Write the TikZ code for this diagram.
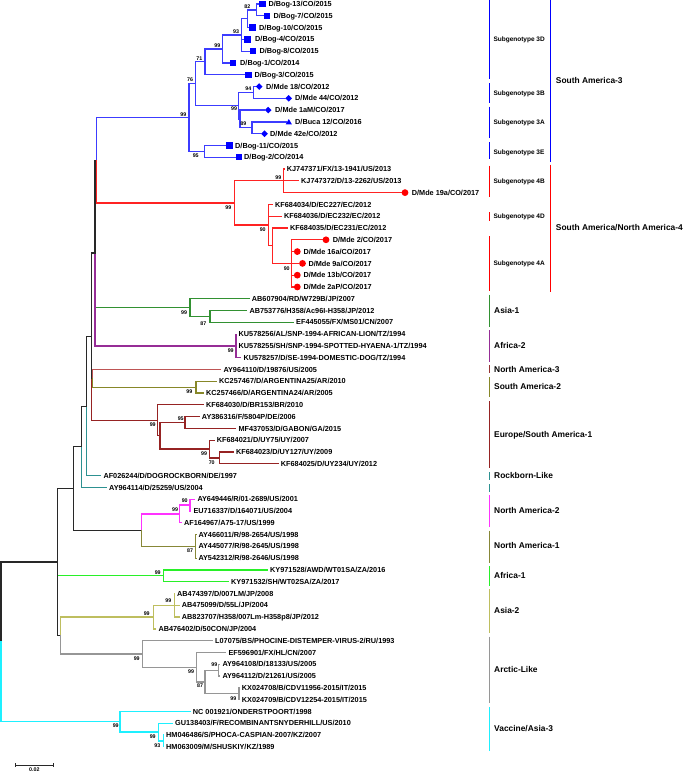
\documentclass[tikz,border=0pt]{standalone}
\usepackage{fontspec}
\setmainfont{Liberation Sans}
\usetikzlibrary{shapes.geometric}
\definecolor{cSA3}{RGB}{60,60,255}
\definecolor{cBlue}{RGB}{0,0,255}
\definecolor{cSA4}{RGB}{255,35,35}
\definecolor{cRed}{RGB}{255,0,0}
\definecolor{cAs1}{RGB}{50,145,50}
\definecolor{cAf2}{RGB}{150,45,150}
\definecolor{cNA3}{RGB}{190,85,85}
\definecolor{cNA3bar}{RGB}{150,50,50}
\definecolor{cSA2}{RGB}{135,135,40}
\definecolor{cEu}{RGB}{150,35,35}
\definecolor{cRock}{RGB}{45,145,145}
\definecolor{cNA2}{RGB}{255,50,255}
\definecolor{cNA1}{RGB}{135,135,55}
\definecolor{cAf1}{RGB}{40,240,40}
\definecolor{cAs2}{RGB}{190,190,95}
\definecolor{cArc}{RGB}{150,150,150}
\definecolor{cVac}{RGB}{30,240,255}
\definecolor{cBk}{RGB}{40,40,40}
\begin{document}
\begin{tikzpicture}[x=1pt,y=-1pt,
  br/.style={line width=1.25pt,line cap=rect},
  leaf/.style={anchor=west,inner xsep=2.5pt,inner ysep=0pt,text height=5.25pt,text depth=0pt,font=\fontsize{7.3}{8}\selectfont\bfseries},
  bs/.style={inner sep=0pt,font=\fontsize{5.3}{6}\selectfont\bfseries},
  sq/.style={fill=cBlue,rectangle,minimum size=6pt,inner sep=0pt},
  dia/.style={fill=cBlue,diamond,minimum size=6.8pt,inner sep=0pt},
  tri/.style={fill=cBlue,regular polygon,regular polygon sides=3,minimum size=7.2pt,inner sep=0pt},
  dot/.style={fill=cRed,circle,minimum size=6.8pt,inner sep=0pt},
  bar/.style={line width=1.25pt},
  sub/.style={anchor=west,inner sep=0pt,text height=4.7pt,text depth=0pt,font=\fontsize{6.5}{7}\selectfont\bfseries},
  clade/.style={anchor=west,inner sep=0pt,text height=6pt,text depth=0pt,font=\fontsize{8.4}{9}\selectfont\bfseries}
]
\fill[white] (0,0) rectangle (685,772);
\useasboundingbox (0,0) rectangle (685,772);

% internal nodes
\coordinate (root) at (1,641.85);
\coordinate (ni) at (57.5,561.98);
\coordinate (ng) at (73.3,488.46);
\coordinate (nf) at (81.7,446.78);
\coordinate (ne) at (86.7,406.16);
\coordinate (nc) at (91.7,336.71);
\coordinate (nb) at (95,253.09);
\coordinate (nSA) at (96.7,160.27);
\coordinate (nB0) at (189,117.58);
\coordinate (n76) at (195.7,83.78);
\coordinate (n71) at (205,61.85);
\coordinate (n99a) at (222.7,48.95);
\coordinate (n93) at (241.7,34.95);
\coordinate (na) at (247.3,18.74);
\coordinate (n82) at (256.7,9.9);
\coordinate (n3AB) at (238.3,105.7);
\coordinate (n3B) at (253.3,92.43);
\coordinate (n3A) at (240,118.96);
\coordinate (n89) at (252,127.8);
\coordinate (n3E) at (204.3,151.38);
\coordinate (nR0) at (234.3,202.96);
\coordinate (n4B) at (283.3,180.85);
\coordinate (n4AD) at (268.3,225.06);
\coordinate (n4Ap) at (272.7,245.7);
\coordinate (n4A) at (291.7,263.38);
\coordinate (nG0) at (190,307.6);
\coordinate (nG1) at (210,316.44);
\coordinate (nP0) at (236,345.91);
\coordinate (nd) at (92.3,378.34);
\coordinate (nS2) at (196,387.18);
\coordinate (nE0) at (157.7,420.33);
\coordinate (nE1) at (160,435.8);
\coordinate (nE2) at (185,422.55);
\coordinate (nE3) at (209.3,449.08);
\coordinate (nE4) at (219.3,457.92);
\coordinate (nh) at (141.7,530.13);
\coordinate (nM0) at (179.3,513.92);
\coordinate (nM1) at (190,505.08);
\coordinate (nN1) at (195.7,546.34);
\coordinate (nAf1) at (163.3,575.82);
\coordinate (nj) at (60.7,635.5);
\coordinate (nY0) at (153.3,617.08);
\coordinate (nY1) at (174.3,605.29);
\coordinate (nA0) at (142.7,653.93);
\coordinate (nA1) at (196.7,667.19);
\coordinate (nA2) at (205,681.93);
\coordinate (nA3) at (218.3,670.14);
\coordinate (nA4) at (239,693.72);
\coordinate (nV1) at (120,721.72);
\coordinate (nV2) at (158.3,732.03);
\coordinate (nV3) at (163.3,740.88);

% leaves: South America-3
\node[sq] (m1) at (262.3,4) {};      \node[leaf] (t1) at (265.8,4) {D/Bog-13/CO/2015};
\node[sq] (m2) at (267,15.79) {};    \node[leaf] (t2) at (270.8,15.79) {D/Bog-7/CO/2015};
\node[sq] (m3) at (252.3,27.58) {};  \node[leaf] (t3) at (256.5,27.58) {D/Bog-10/CO/2015};
\node[sq] (m4) at (247.3,39.37) {};  \node[leaf] (t4) at (252.5,39.37) {D/Bog-4/CO/2015};
\node[sq] (m5) at (252.7,51.16) {};  \node[leaf] (t5) at (256.8,51.16) {D/Bog-8/CO/2015};
\node[sq] (m6) at (233,62.95) {};    \node[leaf] (t6) at (237.5,62.95) {D/Bog-1/CO/2014};
\node[sq] (m7) at (248.3,74.74) {};  \node[leaf] (t7) at (251.8,74.74) {D/Bog-3/CO/2015};
\node[dia] (m8) at (259.2,86.53) {}; \node[leaf] (t8) at (263.5,86.53) {D/Mde 18/CO/2012};
\node[dia] (m9) at (288.7,98.32) {}; \node[leaf] (t9) at (292.5,98.32) {D/Mde 44/CO/2012};
\node[dia] (m10) at (268.2,110.11) {}; \node[leaf] (t10) at (272.5,110.11) {D/Mde 1aM/CO/2017};
\node[tri] (m11) at (288.8,122.6) {}; \node[leaf] (t11) at (292.5,121.9) {D/Buca 12/CO/2016};
\node[dia] (m12) at (264.5,133.69) {}; \node[leaf] (t12) at (267.5,133.69) {D/Mde 42e/CO/2012};
\node[sq] (m13) at (229.3,145.48) {}; \node[leaf] (t13) at (232.5,145.48) {D/Bog-11/CO/2015};
\node[sq] (m14) at (239,157.27) {};  \node[leaf] (t14) at (241.5,157.27) {D/Bog-2/CO/2014};
% South America/North America-4
\node[leaf] (t15) at (284.2,169.06) {KJ747371/FX/13-1941/US/2013};
\node[leaf] (t16) at (298.5,180.85) {KJ747372/D/13-2262/US/2013};
\node[dot] (m17) at (405,192.64) {}; \node[leaf] (t17) at (409.2,192.64) {D/Mde 19a/CO/2017};
\node[leaf] (t18) at (272.5,204.43) {KF684034/D/EC227/EC/2012};
\node[leaf] (t19) at (281.5,216.22) {KF684036/D/EC232/EC/2012};
\node[leaf] (t20) at (287.5,228.01) {KF684035/D/EC231/EC/2012};
\node[dot] (m21) at (326,239.8) {};   \node[leaf] (t21) at (330.2,239.8) {D/Mde 2/CO/2017};
\node[dot] (m22) at (297.3,251.59) {}; \node[leaf] (t22) at (300.8,251.59) {D/Mde 16a/CO/2017};
\node[dot] (m23) at (302.5,263.38) {}; \node[leaf] (t23) at (305.8,263.38) {D/Mde 9a/CO/2017};
\node[dot] (m24) at (297.3,275.17) {}; \node[leaf] (t24) at (300.8,275.17) {D/Mde 13b/CO/2017};
\node[dot] (m25) at (297.3,286.96) {}; \node[leaf] (t25) at (300.8,286.96) {D/Mde 2aP/CO/2017};
% others
\node[leaf] (t26) at (249.2,298.75) {AB607904/RD/W729B/JP/2007};
\node[leaf] (t27) at (246.8,310.54) {AB753776/H358/Ac96I-H358/JP/2012};
\node[leaf] (t28) at (293.5,322.33) {EF445055/FX/MS01/CN/2007};
\node[leaf] (t29) at (236,334.12) {KU578256/AL/SNP-1994-AFRICAN-LION/TZ/1994};
\node[leaf] (t30) at (236,345.91) {KU578255/SH/SNP-1994-SPOTTED-HYAENA-1/TZ/1994};
\node[leaf] (t31) at (240.8,357.7) {KU578257/D/SE-1994-DOMESTIC-DOG/TZ/1994};
\node[leaf] (t32) at (220.8,369.49) {AY964110/D/19876/US/2005};
\node[leaf] (t33) at (216.5,381.28) {KC257467/D/ARGENTINA25/AR/2010};
\node[leaf] (t34) at (203.5,393.07) {KC257466/D/ARGENTINA24/AR/2005};
\node[leaf] (t35) at (203.5,404.86) {KF684030/D/BR153/BR/2010};
\node[leaf] (t36) at (199.2,416.65) {AY386316/F/5804P/DE/2006};
\node[leaf] (t37) at (235.8,428.44) {MF437053/D/GABON/GA/2015};
\node[leaf] (t38) at (214.2,440.23) {KF684021/D/UY75/UY/2007};
\node[leaf] (t39) at (233.5,452.02) {KF684023/D/UY127/UY/2009};
\node[leaf] (t40) at (278.2,463.81) {KF684025/D/UY234/UY/2012};
\node[leaf] (t41) at (100.8,475.6) {AF026244/D/DOGROCKBORN/DE/1997};
\node[leaf] (t42) at (106.5,487.39) {AY964114/D/25259/US/2004};
\node[leaf] (t43) at (194.8,499.18) {AY649446/R/01-2689/US/2001};
\node[leaf] (t44) at (190.8,510.97) {EU716337/D/164071/US/2004};
\node[leaf] (t45) at (181.5,522.76) {AF164967/A75-17/US/1999};
\node[leaf] (t46) at (195.8,534.55) {AY466011/R/98-2654/US/1998};
\node[leaf] (t47) at (195.8,546.34) {AY445077/R/98-2645/US/1998};
\node[leaf] (t48) at (195.8,558.13) {AY542312/R/98-2646/US/1998};
\node[leaf] (t49) at (267.5,569.92) {KY971528/AWD/WT01SA/ZA/2016};
\node[leaf] (t50) at (228.5,581.71) {KY971532/SH/WT02SA/ZA/2017};
\node[leaf] (t51) at (174.5,593.5) {AB474397/D/007LM/JP/2008};
\node[leaf] (t52) at (179.2,605.29) {AB475099/D/55L/JP/2004};
\node[leaf] (t53) at (179.2,617.08) {AB823707/H358/007Lm-H358p8/JP/2012};
\node[leaf] (t54) at (155.8,628.87) {AB476402/D/50CON/JP/2004};
\node[leaf] (t55) at (212.5,640.66) {L07075/BS/PHOCINE-DISTEMPER-VIRUS-2/RU/1993};
\node[leaf] (t56) at (225.8,652.45) {EF596901/FX/HL/CN/2007};
\node[leaf] (t57) at (219.8,664.24) {AY964108/D/18133/US/2005};
\node[leaf] (t58) at (219.8,676.03) {AY964112/D/21261/US/2005};
\node[leaf] (t59) at (239.2,687.82) {KX024708/B/CDV11956-2015/IT/2015};
\node[leaf] (t60) at (239.2,699.61) {KX024709/B/CDV12254-2015/IT/2015};
\node[leaf] (t61) at (190.2,711.4) {NC 001921/ONDERSTPOORT/1998};
\node[leaf] (t62) at (172.5,723.19) {GU138403/F/RECOMBINANTSNYDERHILL/US/2010};
\node[leaf] (t63) at (163.5,734.98) {HM046486/S/PHOCA-CASPIAN-2007/KZ/2007};
\node[leaf] (t64) at (163.5,746.77) {HM063009/M/SHUSKIY/KZ/1989};

% backbone edges
\draw[br,cAf1] (ni) |- (nAf1);
\draw[br,cBk] (root) |- (ni);
\draw[br,cVac] (root) |- (nV1);
\draw[br,cBk] (ni) |- (ng);
\draw[br,cBk] (ni) |- (nj);
\draw[br,cBk] (ng) |- (nf);
\draw[br,cBk] (ng) |- (nh);
\draw[br,cRock] (nf) |- (t42.west);
\draw[br,cBk] (nf) |- (ne);
\draw[br,cRock] (ne) |- (t41.west);
\draw[br,cBk] (ne) |- (nc);
\draw[br,cEu] (nc) |- (nE0);
\draw[br,cBk] (nc) |- (nb);
\draw[br,cBk] (nc) |- (nd);
\draw[br,cAs1] (nb) |- (nG0);
\draw[br,cAf2] (nb) |- (nP0);
\draw[br,cBk] (nb) |- (nSA);
\draw[br,cSA3] (nSA) |- (nB0);
\draw[br,cSA4] (nSA) |- (nR0);

% South America-3
\begin{scope}[br,cSA3]
\draw (nB0) |- (n76); \draw (nB0) |- (n3E);
\draw (n76) |- (n71); \draw (n76) |- (n3AB);
\draw (n71) |- (n99a); \draw (n71) |- (m7.west);
\draw (n99a) |- (n93); \draw (n99a) |- (m6.west);
\draw (n93) |- (na); \draw (n93) |- (m4.west); \draw (n93) |- (m5.west);
\draw (na) |- (n82); \draw (na) |- (m3.west);
\draw (n82) |- (m1.west); \draw (n82) |- (m2.west);
\draw (n3AB) |- (n3B); \draw (n3AB) |- (n3A);
\draw (n3B) |- (m8.west); \draw (n3B) |- (m9.west);
\draw (n3A) |- (m10.west); \draw (n3A) |- (n89);
\draw (n89) |- (m11.west |- t11.west); \draw (n89) |- (m12.west);
\draw (n3E) |- (m13.west); \draw (n3E) |- (m14.west);
\end{scope}
% South America/North America-4
\begin{scope}[br,cSA4]
\draw (nR0) |- (n4B); \draw (nR0) |- (n4AD);
\draw (n4B) |- (t15.west); \draw (n4B) |- (t16.west); \draw (n4B) |- (m17.west);
\draw (n4AD) |- (t18.west); \draw (n4AD) |- (t19.west); \draw (n4AD) |- (n4Ap);
\draw (n4Ap) |- (t20.west); \draw (n4Ap) |- (n4A);
\draw (n4A) |- (m21.west); \draw (n4A) |- (m22.west); \draw (n4A) |- (m23.west);
\draw (n4A) |- (m24.west); \draw (n4A) |- (m25.west);
\end{scope}
% Asia-1
\begin{scope}[br,cAs1]
\draw (nG0) |- (t26.west); \draw (nG0) |- (nG1);
\draw (nG1) |- (t27.west); \draw (nG1) |- (t28.west);
\end{scope}
% Africa-2
\begin{scope}[br,cAf2]
\draw (nP0) |- (t29.west); \draw (nP0) |- (t30.west); \draw (nP0) |- (t31.west);
\end{scope}
% NA-3 / SA-2
\draw[br,cNA3] (nd) |- (t32.west);
\begin{scope}[br,cSA2]
\draw (nd) |- (nS2);
\draw (nS2) |- (t33.west); \draw (nS2) |- (t34.west);
\end{scope}
% Europe/South America-1
\begin{scope}[br,cEu]
\draw (nE0) |- (t35.west); \draw (nE0) |- (nE1);
\draw (nE1) |- (nE2); \draw (nE1) |- (nE3);
\draw (nE2) |- (t36.west); \draw (nE2) |- (t37.west);
\draw (nE3) |- (t38.west); \draw (nE3) |- (nE4);
\draw (nE4) |- (t39.west); \draw (nE4) |- (t40.west);
\end{scope}
% North America-2 / -1
\begin{scope}[br,cNA2]
\draw (nh) |- (nM0);
\draw (nM0) |- (nM1); \draw (nM0) |- (t45.west);
\draw (nM1) |- (t43.west); \draw (nM1) |- (t44.west);
\end{scope}
\begin{scope}[br,cNA1]
\draw (nh) |- (nN1);
\draw (nN1) |- (t46.west); \draw (nN1) |- (t47.west); \draw (nN1) |- (t48.west);
\end{scope}
% Africa-1
\begin{scope}[br,cAf1]
\draw (nAf1) |- (t49.west); \draw (nAf1) |- (t50.west);
\end{scope}
% Asia-2
\begin{scope}[br,cAs2]
\draw (nj) |- (nY0);
\draw (nY0) |- (nY1); \draw (nY0) |- (t54.west);
\draw (nY1) |- (t51.west); \draw (nY1) |- (t52.west); \draw (nY1) |- (t53.west);
\end{scope}
% Arctic-Like
\begin{scope}[br,cArc]
\draw (nj) |- (nA0);
\draw (nA0) |- (t55.west); \draw (nA0) |- (nA1);
\draw (nA1) |- (t56.west); \draw (nA1) |- (nA2);
\draw (nA2) |- (nA3); \draw (nA2) |- (nA4);
\draw (nA3) |- (t57.west); \draw (nA3) |- (t58.west);
\draw (nA4) |- (t59.west); \draw (nA4) |- (t60.west);
\end{scope}
% Vaccine/Asia-3
\begin{scope}[br,cVac]
\draw (nV1) |- (t61.west); \draw (nV1) |- (nV2);
\draw (nV2) |- (t62.west); \draw (nV2) |- (nV3);
\draw (nV3) |- (t63.west); \draw (nV3) |- (t64.west);
\end{scope}

% redraw markers on top
\foreach \m in {m1,m2,m3,m4,m5,m6,m7,m13,m14} {\fill[cBlue] (\m.south west) rectangle (\m.north east);}

% bootstrap values
\node[bs] (b1) at (247.3,6.7) {82};
\node[bs] (b2) at (236,31.7) {93};
\node[bs] (b3) at (217.3,46) {99};
\node[bs] (b4) at (199.3,58.3) {71};
\node[bs] (b5) at (190,80) {76};
\node[bs] (b6) at (248.3,88.3) {94};
\node[bs] (b7) at (234,109) {99};
\node[bs] (b8) at (243.3,123.3) {89};
\node[bs] (b9) at (183.3,114.3) {99};
\node[bs] (b10) at (195.7,155.7) {95};
\node[bs] (b11) at (278.3,177.3) {99};
\node[bs] (b12) at (228.3,207.7) {99};
\node[bs] (b13) at (262.7,230) {90};
\node[bs] (b14) at (286.7,268.3) {90};
\node[bs] (b15) at (184,312.3) {99};
\node[bs] (b16) at (203.3,323.3) {87};
\node[bs] (b17) at (230.7,350.7) {99};
\node[bs] (b18) at (189.3,391.7) {99};
\node[bs] (b19) at (152.7,424.3) {99};
\node[bs] (b20) at (180.7,418.3) {95};
\node[bs] (b21) at (204,453.3) {99};
\node[bs] (b22) at (211.7,462.3) {70};
\node[bs] (b23) at (184.7,500.7) {90};
\node[bs] (b24) at (175,509.3) {99};
\node[bs] (b25) at (190,550.7) {87};
\node[bs] (b26) at (157.7,572.3) {99};
\node[bs] (b27) at (168.3,601) {99};
\node[bs] (b28) at (146.7,613.3) {99};
\node[bs] (b29) at (136.7,658.3) {99};
\node[bs] (b30) at (191,671.7) {99};
\node[bs] (b31) at (200,686) {87};
\node[bs] (b32) at (214.3,665) {99};
\node[bs] (b33) at (233.3,698.3) {99};
\node[bs] (b34) at (115.7,726) {99};
\node[bs] (b35) at (152.7,736.7) {99};
\node[bs] (b36) at (157.3,746) {93};

% group bars
\begin{scope}[bar,cBlue]
\draw (489.3,0) -- (489.3,79.3);
\draw (489.3,83.3) -- (489.3,102.7);
\draw (489.3,106.7) -- (489.3,138);
\draw (489.3,142) -- (489.3,159.3);
\draw (550.3,0) -- (550.3,162);
\end{scope}
\begin{scope}[bar,cRed]
\draw (489.3,165.7) -- (489.3,196.7);
\draw (489.3,212.3) -- (489.3,220.7);
\draw (489.3,236) -- (489.3,291);
\draw (550.3,164.7) -- (550.3,291.7);
\end{scope}
\draw[bar,cAs1] (489.3,294.7) -- (489.3,326.7);
\draw[bar,cAf2] (489.3,330.3) -- (489.3,362.3);
\draw[bar,cNA3bar] (489.3,365) -- (489.3,373.3);
\draw[bar,cSA2] (489.3,377.3) -- (489.3,397.3);
\draw[bar,cEu] (489.3,401) -- (489.3,468.3);
\draw[bar,cRock] (489.3,472) -- (489.3,480);
\draw[bar,cRock] (489.3,484) -- (489.3,491.7);
\draw[bar,cNA2] (489.3,495.3) -- (489.3,526.7);
\draw[bar,cNA1] (489.3,530.7) -- (489.3,562.7);
\draw[bar,cAf1] (489.3,566) -- (489.3,586);
\draw[bar,cAs2] (489.3,589.3) -- (489.3,632.7);
\draw[bar,cArc] (489.3,636.7) -- (489.3,703.3);
\draw[bar,cVac] (489.3,707.3) -- (489.3,750.7);

\node[sub] (s3D) at (493.3,39.3) {Subgenotype 3D};
\node[sub] (s3B) at (493.3,92.7) {Subgenotype 3B};
\node[sub] (s3A) at (493.3,122) {Subgenotype 3A};
\node[sub] (s3E) at (493.3,151.7) {Subgenotype 3E};
\node[sub] (s4B) at (493.3,181) {Subgenotype 4B};
\node[sub] (s4D) at (493.3,216.3) {Subgenotype 4D};
\node[sub] (s4A) at (493.3,263.3) {Subgenotype 4A};
\node[clade] (gSA3) at (555.7,80.3) {South America-3};
\node[clade] (gSA4) at (555.7,227.7) {South America/North America-4};
\node[clade] (gAs1) at (494,310) {Asia-1};
\node[clade] (gAf2) at (494,345.7) {Africa-2};
\node[clade] (gNA3) at (494,369) {North America-3};
\node[clade] (gSA2) at (494,386.7) {South America-2};
\node[clade] (gEu) at (494,434) {Europe/South America-1};
\node[clade] (gRock) at (494,475.3) {Rockborn-Like};
\node[clade] (gNA2) at (494,510.3) {North America-2};
\node[clade] (gNA1) at (494,545.7) {North America-1};
\node[clade] (gAf1) at (494,575) {Africa-1};
\node[clade] (gAs2) at (494,610) {Asia-2};
\node[clade] (gArc) at (494,669.3) {Arctic-Like};
\node[clade] (gVac) at (494,728.3) {Vaccine/Asia-3};

% scale bar
\coordinate (sbA) at (15.7,765);
\coordinate (sbB) at (53.3,765);
\draw[line width=0.9pt,cBk] (sbA) -- (sbB);
\draw[line width=0.9pt,cBk] ([yshift=1.8pt]sbA) -- ([yshift=-1.8pt]sbA);
\draw[line width=0.9pt,cBk] ([yshift=1.8pt]sbB) -- ([yshift=-1.8pt]sbB);
\node[bs] (sbl) at (34.3,769.3) {0.02};
\end{tikzpicture}
\end{document}
